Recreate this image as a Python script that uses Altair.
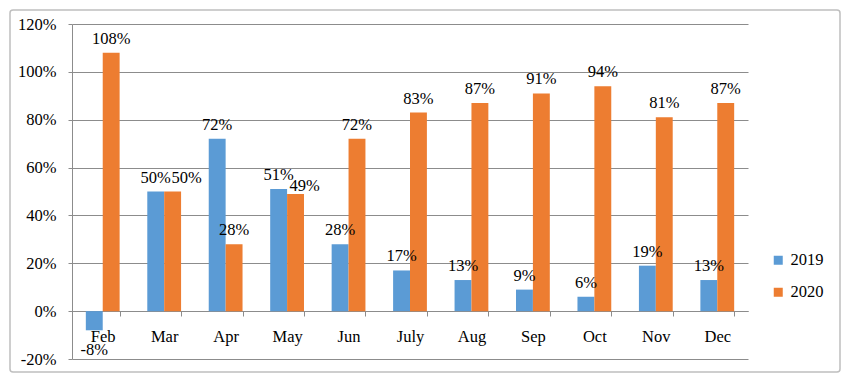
import altair as alt
import pandas as pd

months = ["Feb", "Mar", "Apr", "May", "Jun", "July", "Aug", "Sep", "Oct", "Nov", "Dec"]
v2019 = [-0.08, 0.50, 0.72, 0.51, 0.28, 0.17, 0.13, 0.09, 0.06, 0.19, 0.13]
v2020 = [1.08, 0.50, 0.28, 0.49, 0.72, 0.83, 0.87, 0.91, 0.94, 0.81, 0.87]
years = ["2019", "2020"]
colors = ["#5B9BD5", "#ED7D31"]
y_ticks = [-0.2, 0.0, 0.2, 0.4, 0.6, 0.8, 1.0, 1.2]

rows = []
for m, a, b in zip(months, v2019, v2020):
    rows.append({"month": m, "year": "2019", "value": a})
    rows.append({"month": m, "year": "2020", "value": b})
df = pd.DataFrame(rows)

FONT = "Liberation Serif, Times New Roman, serif"
FS = 16.5
GRID = "#8c8c8c"

x_enc = alt.X(
    "month:N", sort=months,
    scale=alt.Scale(paddingInner=0.45, paddingOuter=0.225),
    axis=alt.Axis(title=None, orient="bottom", offset=-48, tickBand="extent",
                  labelAngle=0, labelPadding=12, labelFontSize=FS, labelFont=FONT,
                  labelColor="#000000", domainColor=GRID, tickColor=GRID, tickSize=5),
)
xo_enc = alt.XOffset("year:N", scale=alt.Scale(domain=years, paddingInner=0, paddingOuter=0))
y_enc = alt.Y(
    "value:Q",
    scale=alt.Scale(domain=[-0.2, 1.2], nice=False, zero=False),
    axis=alt.Axis(title=None, format=".0%", values=y_ticks, grid=True, gridColor=GRID,
                  labelExpr="replace(datum.label, '\u2212', '-')",
                  domainColor=GRID, tickColor=GRID, tickSize=4, labelPadding=12,
                  labelFontSize=FS, labelFont=FONT, labelColor="#000000"),
)

base = alt.Chart(df).transform_calculate(
    lbl="replace(format(datum.value, '.0%'), '\u2212', '-')"
)

bars = base.mark_bar().encode(
    x=x_enc, xOffset=xo_enc, y=y_enc,
    color=alt.Color("year:N", scale=alt.Scale(domain=years, range=colors),
                    legend=alt.Legend(title=None, orient="none", legendX=698, legendY=228,
                                      symbolType="square", symbolSize=81,
                                      symbolStrokeWidth=0, labelFontSize=FS,
                                      labelFont=FONT, rowPadding=15)),
)

def labels(filt, dx=0, dy=-9):
    return base.transform_filter(filt).mark_text(
        baseline="alphabetic", dx=dx, dy=dy, fontSize=FS, font=FONT, color="#000000"
    ).encode(x=alt.X("month:N", sort=months), xOffset=xo_enc, y="value:Q", text="lbl:N")

pos_labels = labels("datum.value >= 0 && !(datum.year == '2020' && (datum.month == 'Mar' || datum.month == 'May'))")
mar_label = labels("datum.year == '2020' && datum.month == 'Mar'", dx=14)
may_label = labels("datum.year == '2020' && datum.month == 'May'", dx=9, dy=-3)
neg_labels = labels("datum.value < 0", dy=25)

border = alt.Chart(alt.Data(values=[{"a": 1}])).mark_rect(
    fill=None, stroke="#bfbfbf", strokeWidth=1.5, cornerRadius=3
).encode(x=alt.value(-62), x2=alt.value(768), y=alt.value(-14), y2=alt.value(348))

chart = alt.layer(bars, pos_labels, mar_label, may_label, neg_labels, border).properties(
    width=676, height=335,
    autosize=alt.AutoSizeParams(type="none"),
    padding={"left": 64, "top": 16, "right": 94, "bottom": 14},
).configure_view(stroke=None)

chart.save("out.html", embed_options={"renderer": "svg", "actions": False})
